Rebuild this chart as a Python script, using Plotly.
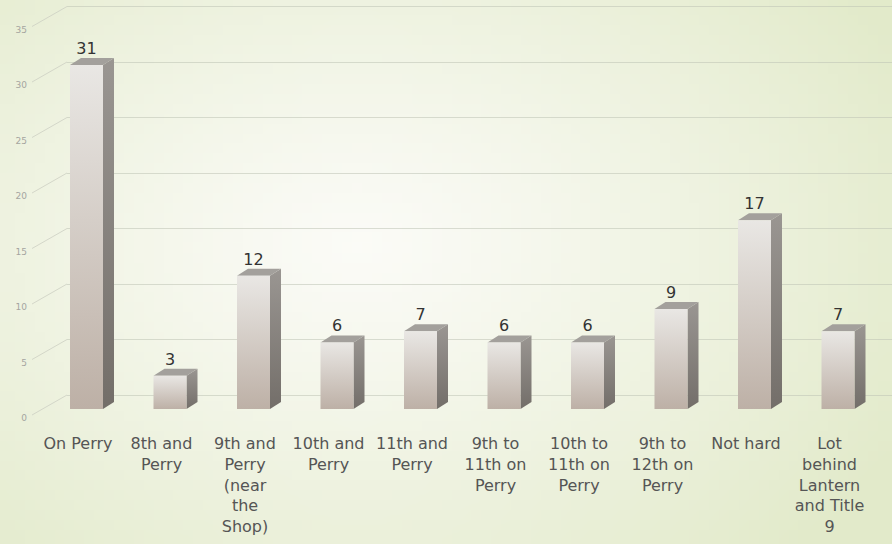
import plotly.graph_objects as go
import zlib, struct, base64

# ---------------- data ----------------
categories = ["On Perry", "8th and<br>Perry", "9th and<br>Perry<br>(near<br>the<br>Shop)",
              "10th and<br>Perry", "11th and<br>Perry", "9th to<br>11th on<br>Perry",
              "10th to<br>11th on<br>Perry", "9th to<br>12th on<br>Perry", "Not hard",
              "Lot<br>behind<br>Lantern<br>and Title<br>9"]
values = [31, 3, 12, 6, 7, 6, 6, 9, 17, 7]
y_ticks = [0, 5, 10, 15, 20, 25, 30, 35]

# ---------------- geometry (pixels) ----------------
W, H = 892, 544
ML, MR, MT, MB = 28, 0, 5, 119
PW, PH = W - ML - MR, H - MT - MB
PX_X = 83.5                 # px per category
PX_Y = 11.1                 # px per unit value
FIRST_TICK_PX = 78          # pixel x of first category tick
FLOOR_PX = 409              # pixel y of value 0 for bar fronts
LABEL0_PX = 418             # pixel y of tick label "0"
GRID0_PX = 395              # pixel y of back-wall gridline 0
WALL_PX = 67                # pixel x of back wall left edge

x_min = -(FIRST_TICK_PX - ML) / PX_X
x_max = x_min + PW / PX_X
span_y = PH / PX_Y
bottom_px = MT + PH
def yrange(zero_px):
    lo = -(bottom_px - zero_px) / PX_Y
    return [lo, lo + span_y]

SHIFT = 8.5 / PX_X          # bars sit slightly right of tick
HALF = 16.5 / PX_X          # half front width
DX = 11 / PX_X              # depth offset x
DY = 7 / PX_Y               # depth offset y

# ---------------- background gradient PNG ----------------
def make_png(w, h):
    c0 = (251, 251, 247)
    c1 = (226, 234, 202)
    rows = b""
    for j in range(h):
        row = b"\x00"
        for i in range(w):
            dx = (i / (w - 1) - 0.40) / 0.70
            dy = (j / (h - 1) - 0.45) / 0.80
            t = min(1.0, (dx * dx + dy * dy) ** 0.5)
            t = t ** 1.2
            px = bytes(int(round(c0[k] + (c1[k] - c0[k]) * t)) for k in range(3))
            row += px
        rows += row
    def chunk(tag, data):
        return struct.pack(">I", len(data)) + tag + data + struct.pack(">I", zlib.crc32(tag + data) & 0xffffffff)
    png = b"\x89PNG\r\n\x1a\n"
    png += chunk(b"IHDR", struct.pack(">IIBBBBB", w, h, 8, 2, 0, 0, 0))
    png += chunk(b"IDAT", zlib.compress(rows, 9))
    png += chunk(b"IEND", b"")
    return "data:image/png;base64," + base64.b64encode(png).decode()

bg = make_png(90, 55)

fig = go.Figure()

# diagonal side-wall lines from tick labels to back wall
dx_wall = (WALL_PX - ML) / PX_X
lx, ly = [], []
for v in y_ticks:
    lx += [x_min + 4 / PX_X, x_min + dx_wall, None]
    ly += [v - (LABEL0_PX - FLOOR_PX - 3) / PX_Y, v + (FLOOR_PX - GRID0_PX) / PX_Y, None]
fig.add_trace(go.Scatter(x=lx, y=ly, mode="lines", xaxis="x2", yaxis="y2",
                         line=dict(color="rgba(205,208,195,0.8)", width=1),
                         hoverinfo="skip", showlegend=False))

front_cs = [[0, "#bdb0a6"], [1, "#e9e7e4"]]
side_cs = [[0, "#736e69"], [1, "#9a9692"]]
top_col = "#a3a09c"

for i, v in enumerate(values):
    xc = i + SHIFT
    xl, xr = xc - HALF, xc + HALF
    # side face
    fig.add_trace(go.Scatter(x=[xr, xr + DX, xr + DX, xr, xr], y=[0, DY, v + DY, v, 0],
                             fill="toself", mode="lines", line=dict(width=0),
                             fillgradient=dict(type="vertical", colorscale=side_cs),
                             xaxis="x2", yaxis="y2", hoverinfo="skip", showlegend=False))
    # top face
    fig.add_trace(go.Scatter(x=[xl, xr, xr + DX, xl + DX, xl], y=[v, v, v + DY, v + DY, v],
                             fill="toself", mode="lines", line=dict(width=0),
                             fillcolor=top_col,
                             xaxis="x2", yaxis="y2", hoverinfo="skip", showlegend=False))
    # front face
    fig.add_trace(go.Scatter(x=[xl, xr, xr, xl, xl], y=[0, 0, v, v, 0],
                             fill="toself", mode="lines", line=dict(width=0),
                             fillgradient=dict(type="vertical", colorscale=front_cs),
                             xaxis="x2", yaxis="y2", hoverinfo="skip", showlegend=False))

# value labels
fig.add_trace(go.Scatter(x=[i + SHIFT for i in range(len(values))],
                         y=[v + DY for v in values],
                         text=[str(v) for v in values], mode="text",
                         textposition="top center",
                         textfont=dict(family="DejaVu Sans", size=16, color="#333333"),
                         xaxis="x2", yaxis="y2", hoverinfo="skip", showlegend=False))

# dummy trace to make tick-label axis render
fig.add_trace(go.Scatter(x=[None], y=[None], xaxis="x2", yaxis="y3",
                         hoverinfo="skip", showlegend=False))
# dummy on grid subplot
fig.add_trace(go.Scatter(x=[None], y=[None], xaxis="x", yaxis="y",
                         hoverinfo="skip", showlegend=False))

fig.update_layout(
    width=W, height=H,
    margin=dict(l=ML, r=MR, t=MT, b=MB, autoexpand=False),
    paper_bgcolor="#f4f6ec",
    plot_bgcolor="rgba(0,0,0,0)",
    showlegend=False,
    images=[dict(source=bg, xref="paper", yref="paper", x=-ML / PW, y=1 + MT / PH,
                 sizex=W / PW, sizey=H / PH, sizing="stretch", layer="below",
                 xanchor="left", yanchor="top")],
    xaxis=dict(domain=[(WALL_PX - ML) / PW, 1], range=[0, 1], visible=False, anchor="y",
               automargin=False),
    yaxis=dict(domain=[0, 1], anchor="x", range=yrange(GRID0_PX), tickvals=y_ticks,
               showgrid=True, gridcolor="rgba(190,195,180,0.55)", gridwidth=1,
               showticklabels=False, zeroline=False, showline=False, ticks="",
               automargin=False),
    xaxis2=dict(domain=[0, 1], anchor="y2", range=[x_min, x_max],
                tickvals=list(range(len(categories))), ticktext=categories,
                showgrid=False, zeroline=False, showline=False, ticks="",
                tickangle=0, automargin=False, ticklabelstandoff=7,
                tickfont=dict(family="DejaVu Sans", size=16, color="#555555")),
    yaxis2=dict(domain=[0, 1], anchor="x2", range=yrange(FLOOR_PX), visible=False,
                automargin=False),
    yaxis3=dict(overlaying="y2", anchor="x2", side="left", range=yrange(LABEL0_PX),
                tickvals=y_ticks, showgrid=False, zeroline=False, showline=False,
                ticks="", automargin=False,
                tickfont=dict(family="DejaVu Sans", size=9, color="#a5a5a0")),
)

fig.write_html("out.html", config={"displayModeBar": False},
               post_script="document.body.style.margin='0';document.body.style.padding='0';"
                           "document.body.style.overflow='hidden';")
